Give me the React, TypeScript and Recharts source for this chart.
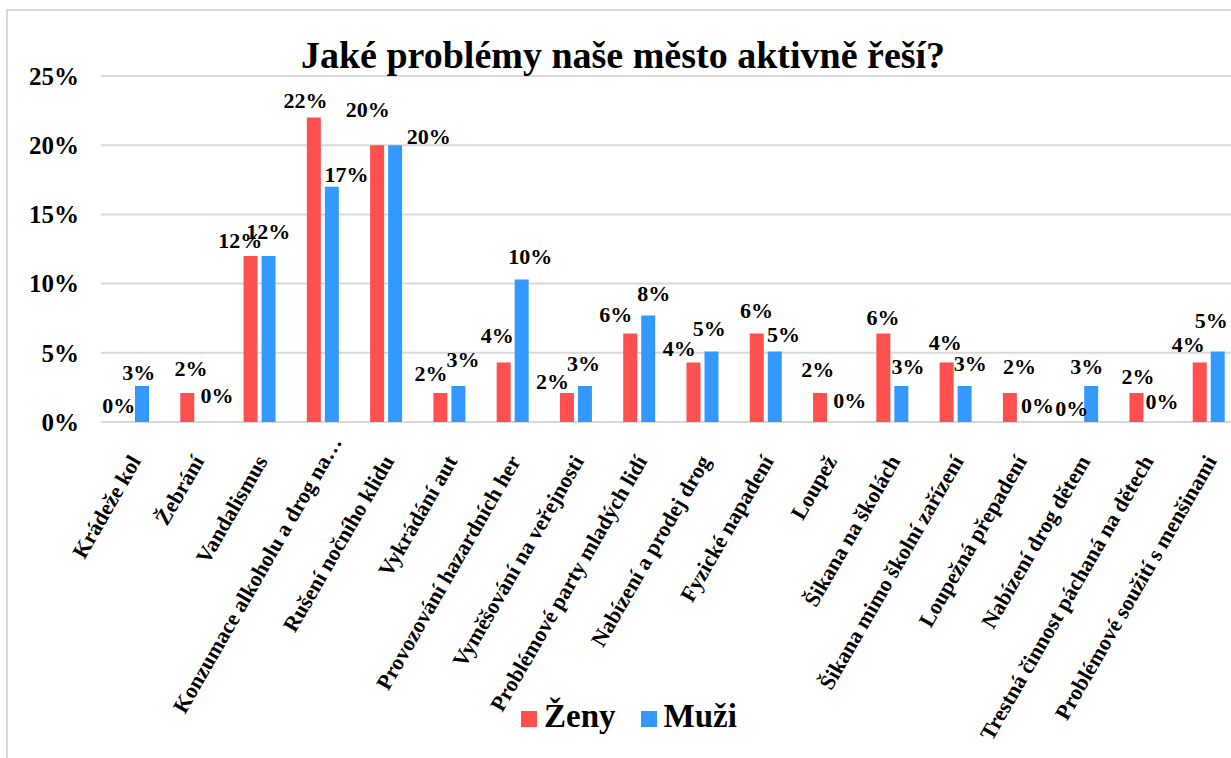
import { ComposedChart, Bar, Scatter, XAxis, YAxis, CartesianGrid, Legend } from 'recharts';

const categories = [
  'Krádeže kol',
  'Žebrání',
  'Vandalismus',
  'Konzumace alkoholu a drog na…',
  'Rušení nočního klidu',
  'Vykrádání aut',
  'Provozování hazardních her',
  'Vyměšování na veřejnosti',
  'Problémové party mladých lidí',
  'Nabízení a prodej drog',
  'Fyzické napadení',
  'Loupež',
  'Šikana na školách',
  'Šikana mimo školní zařízení',
  'Loupežná přepadení',
  'Nabízení drog dětem',
  'Trestná činnost páchaná na dětech',
  'Problémové soužití s menšinami',
];

const zenyValues = [0, 2.1, 12, 22, 20, 2.1, 4.3, 2.1, 6.4, 4.3, 6.4, 2.1, 6.4, 4.3, 2.1, 0, 2.1, 4.3];
const muziValues = [2.6, 0, 12, 17, 20, 2.6, 10.3, 2.6, 7.7, 5.1, 5.1, 0, 2.6, 2.6, 0, 2.6, 0, 5.1];

const yTicks = [0, 5, 10, 15, 20, 25];

// the labels were dragged around by hand in the original, so nudge them [dx, dy] from the bar top
const zenyLabelNudge = [
  [-5, -17], [4, -25], [-10, -16], [-8, -17], [-9, -36], [-9, -20], [-6, -27], [-14, -12], [-14, -19],
  [-14, -14], [0, -23], [-2, -24], [0, -16], [-1, -20], [10, -27], [-1, -14], [2, -17], [-11, -18],
];
const muziLabelNudge = [
  [-3, -14], [12, -27], [0, -25], [15, -12], [34, -9], [5, -27], [9, -23], [-1, -23], [6, -22],
  [-2, -23], [9, -17], [12, -22], [7, -20], [6, -23], [10, -17], [-4, -20], [8, -21], [-6, -31],
];

const FONT = "'Times New Roman', 'Liberation Serif', serif";
const RED = '#FF5050';
const BLUE = '#3399FF';
const GRID = '#D9D9D9';
const BAR_SHIFT = 9; // half of bar width + half of the gap

const chartData = categories.map((name, i) => ({
  name,
  zeny: zenyValues[i],
  muzi: muziValues[i],
}));

const CategoryTick = ({ x, y, payload }: any) => {
  const label: string = payload.value;
  const cut = label.endsWith('…');
  const main = cut ? label.slice(0, -1) : label;
  const style = { fontFamily: FONT, fontWeight: 700, fontSize: 22, fill: '#000' };
  return (
    <g transform={`translate(${x + 9},${y + 39}) rotate(-60)`}>
      <text x={0} y={0} textAnchor="end" style={style}>{main}</text>
      {cut && <text x={0} y={0} textAnchor="start" style={style}>…</text>}
    </g>
  );
};

// value labels drawn as a scatter sitting on each bar top (zero bars get a label too)
const makeLabel = (nudges: number[][], shift: number) => (props: any) => {
  const { cx, cy, index, payload, dataKey } = props;
  const [dx, dy] = nudges[index] || [0, -15];
  const value = payload ? payload[dataKey] : props.value;
  return (
    <text
      x={Number(cx) + shift + dx}
      y={Number(cy) + dy}
      dy="0.35em"
      textAnchor="middle"
      style={{ fontFamily: FONT, fontWeight: 700, fontSize: 22, fill: '#000' }}
    >
      {Math.round(Number(value))}%
    </text>
  );
};

const LegendContent = () => (
  <div
    style={{
      height: 40,
      lineHeight: '40px',
      textAlign: 'center',
      fontFamily: FONT,
      fontWeight: 700,
      fontSize: 33,
      color: '#000',
      whiteSpace: 'nowrap',
    }}
  >
    <span style={{ display: 'inline-block', width: 16, height: 16, background: RED, marginRight: 7 }} />
    <span>Ženy</span>
    <span style={{ display: 'inline-block', width: 16, height: 16, background: BLUE, marginLeft: 25, marginRight: 7 }} />
    <span>Muži</span>
  </div>
);

export default function App() {
  return (
    <div style={{ position: 'fixed', left: 0, top: 0, width: 1231, height: 758, overflow: 'hidden', background: '#fff' }}>
      <div
        style={{
          position: 'absolute',
          left: 6,
          top: 9,
          width: 1300,
          height: 800,
          border: `2px solid ${GRID}`,
        }}
      />
      <div style={{ position: 'absolute', left: 0, top: 0 }}>
        <ComposedChart
          width={1252}
          height={758}
          data={chartData}
          margin={{ top: 76, right: 12, bottom: 22, left: 41 }}
          barSize={14}
          barGap={4}
        >
          <text
            x={623}
            y={68}
            textAnchor="middle"
            style={{ fontFamily: FONT, fontWeight: 700, fontSize: 38, fill: '#000' }}
          >
            Jaké problémy naše město aktivně řeší?
          </text>
          <CartesianGrid vertical={false} stroke={GRID} strokeWidth={2} />
          <XAxis
            dataKey="name"
            interval={0}
            axisLine={false}
            tickLine={false}
            tickSize={0}
            tickMargin={0}
            height={274}
            tick={<CategoryTick />}
          />
          <YAxis
            domain={[0, 25]}
            ticks={yTicks}
            width={60}
            axisLine={false}
            tickLine={false}
            tickSize={0}
            tickMargin={22}
            tickFormatter={(v: number) => `${v}%`}
            tick={{ fontFamily: FONT, fontWeight: 700, fontSize: 25, fill: '#000' }}
          />
          <Legend
            verticalAlign="bottom"
            content={<LegendContent />}
            wrapperStyle={{ left: 0, width: 1258 }}
          />
          <Bar dataKey="zeny" name="Ženy" fill={RED} isAnimationActive={false} />
          <Bar dataKey="muzi" name="Muži" fill={BLUE} isAnimationActive={false} />
          <Scatter
            dataKey="zeny"
            legendType="none"
            isAnimationActive={false}
            shape={(p: any) => makeLabel(zenyLabelNudge, -BAR_SHIFT)({ ...p, dataKey: 'zeny' })}
          />
          <Scatter
            dataKey="muzi"
            legendType="none"
            isAnimationActive={false}
            shape={(p: any) => makeLabel(muziLabelNudge, BAR_SHIFT)({ ...p, dataKey: 'muzi' })}
          />
        </ComposedChart>
      </div>
    </div>
  );
}
